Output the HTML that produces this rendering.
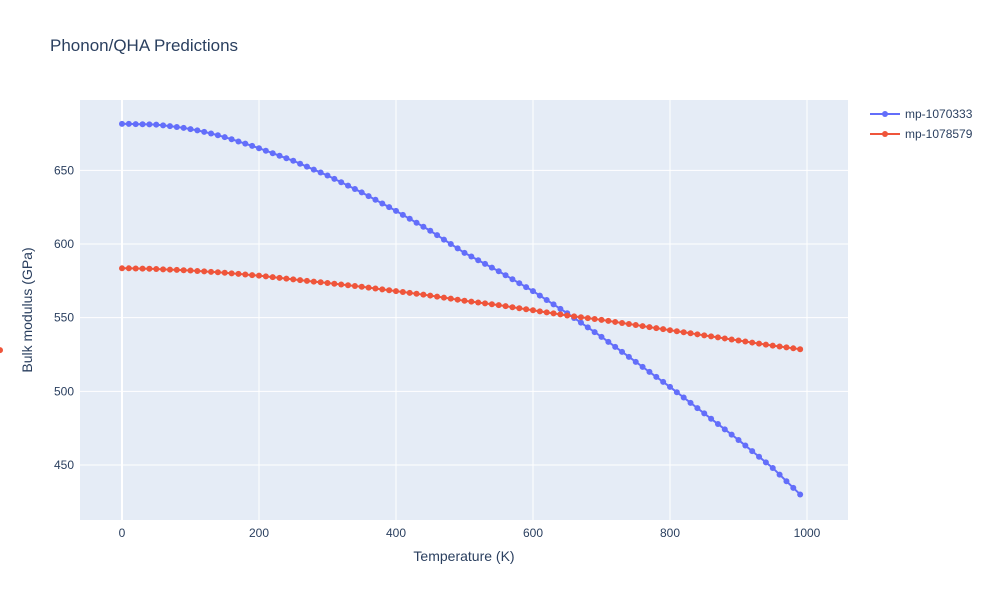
<!DOCTYPE html>
<html><head><meta charset="utf-8"><style>
body{margin:0;background:#fff;}
svg text{font-family:"Liberation Sans",sans-serif;fill:#2a3f5f;}
</style></head><body>
<svg id="chart" width="1000" height="600">
<rect x="0" y="0" width="1000" height="600" fill="#fff"/>
<text x="50" y="51" font-size="17">Phonon/QHA Predictions</text>
<rect x="80" y="100" width="768" height="420" fill="#e5ecf6"/>
<g id="grid"></g>
<g id="series"></g>
<g id="ticks" font-size="12"></g>
<text x="464" y="561" font-size="14" text-anchor="middle">Temperature (K)</text>
<text transform="translate(32,310) rotate(-90)" font-size="14" text-anchor="middle">Bulk modulus (GPa)</text>
<g id="legend" font-size="12"></g>
</svg>
<script>
const temps=[];for(let t=0;t<=990;t+=10)temps.push(t);
const seriesNames=["mp-1070333","mp-1078579"];
const seriesColors=["#636efa","#ef553b"];
const s1=[681.5,681.5,681.4,681.3,681.2,681.0,680.5,680,679.4,678.8,678,
677.1,676.1,675,673.8,672.5,671.1,669.6,668.1,666.6,665,
663.3,661.6,659.9,658.2,656.5,654.5,652.5,650.5,648.5,646.5,
644.2,641.9,639.6,637.3,635,632.5,630,627.5,625,622.5,
619.8,617.1,614.4,611.7,609,606,603,600,597,594,
591.5,589,586.5,584,581.5,578.8,576.1,573.4,570.7,568,
565,562,559,556,553,549.8,546.6,543.4,540.2,537,
533.6,530.2,526.8,523.4,520,516.6,513.2,509.8,506.4,503,
499.4,495.8,492.2,488.6,485,481.4,477.8,474.2,470.6,467,
463.2,459.4,455.6,451.8,448,443.5,439,434.5,430];
const s2=[583.5,583.5,583.4,583.3,583.2,583.0,582.8,582.6,582.4,582.2,582.0,
581.7,581.4,581.1,580.8,580.5,580.1,579.7,579.3,578.9,578.5,
578,577.5,577,576.5,576,575.5,575,574.5,574,573.5,
573,572.5,572,571.5,571,570.4,569.8,569.2,568.6,568,
567.4,566.8,566.2,565.6,565,564.3,563.6,562.9,562.2,561.5,
560.9,560.3,559.7,559.1,558.5,557.8,557.1,556.4,555.7,555,
554.3,553.6,552.9,552.2,551.5,550.9,550.3,549.7,549.1,548.5,
547.8,547.1,546.4,545.7,545,544.3,543.6,542.9,542.2,541.5,
540.8,540.1,539.4,538.7,538,537.3,536.6,535.9,535.2,534.5,
533.8,533.1,532.4,531.7,531,530.4,529.8,529.2,528.6,528];
const xTicks=[0,200,400,600,800,1000];
const yTicks=[450,500,550,600,650];
const NS="http://www.w3.org/2000/svg";
const xs=v=>122+v*0.685;
const ys=v=>244-(v-600)*1.4733;
function mk(tag,attrs,parent){const e=document.createElementNS(NS,tag);for(const k in attrs)e.setAttribute(k,attrs[k]);parent.appendChild(e);return e;}
const grid=document.getElementById('grid'),ticks=document.getElementById('ticks');
xTicks.forEach(t=>{const l=mk('line',{x1:xs(t),x2:xs(t),y1:100,y2:520,stroke:'#fff','stroke-width':t===0?2:1},grid);


const tx=mk('text',{x:xs(t),y:537,'text-anchor':'middle'},ticks);tx.textContent=t;

});
yTicks.forEach(t=>{const l=mk('line',{x1:80,x2:848,y1:ys(t),y2:ys(t),stroke:'#fff','stroke-width':1},grid);


const tx=mk('text',{x:74,y:ys(t)+4,'text-anchor':'end'},ticks);tx.textContent=t;

});
const sg=document.getElementById('series');
[s1,s2].forEach((s,i)=>{const g=mk('g',{},sg);


mk('polyline',{points:s.map((v,j)=>xs(temps[j])+','+ys(v)).join(' '),fill:'none',stroke:seriesColors[i],'stroke-width':2},g);
s.forEach((v,j)=>{const c=mk('circle',{cx:xs(temps[j]),cy:ys(v),r:3,fill:seriesColors[i]},g);

});});
const lg=document.getElementById('legend');
seriesNames.forEach((n,i)=>{const y=114+i*20;const g=mk('g',{},lg);


mk('line',{x1:870,x2:900,y1:y,y2:y,stroke:seriesColors[i],'stroke-width':2},g);
mk('circle',{cx:885,cy:y,r:3,fill:seriesColors[i]},g);
const t=mk('text',{x:905,y:y+4},g);t.textContent=n;});
</script>
</body></html>
